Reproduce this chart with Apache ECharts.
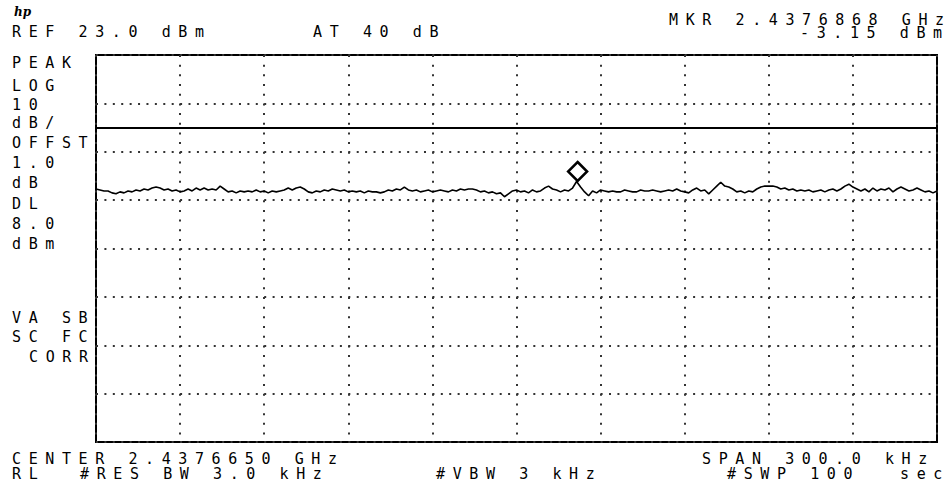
<!DOCTYPE html>
<html>
<head>
<meta charset="utf-8">
<script src="https://cdn.jsdelivr.net/npm/echarts@6/dist/echarts.min.js"></script>
<style>
html,body{margin:0;padding:0;background:#fff;}
#chart{width:952px;height:490px;}
#chart text{letter-spacing:7.6px !important; white-space:pre;}
#chart text[style*="italic"], #chart text[font-style="italic"]{letter-spacing:0px !important;}
</style>
</head>
<body>
<div id="chart"></div>
<script>
// ---- instrument settings ----
const centerGHz = 2.4376650;
const spanKHz = 300;
const refLevel = 23;        // dBm (top of screen)
const dbPerDiv = 10;
const numDivY = 8;
const numDivX = 10;
const displayLine = 8.0;    // dBm
const markerGHz = 2.4376868;
const markerDbm = -3.15;

const trace = [
 -4.7,-4.9,-5.1,-5.1,-5.5,-5.7,-5.3,-5.5,-5.1,-5.3,
 -4.9,-5.1,-4.7,-4.9,-4.5,-4.3,-4.5,-4.9,-4.7,-5.1,
 -4.9,-5.3,-5.1,-4.7,-5.1,-4.5,-4.9,-4.5,-4.9,-4.7,
 -4.9,-4.1,-4.7,-5.3,-5.1,-5.5,-5.1,-5.3,-5.1,-5.3,
 -4.9,-5.3,-5.1,-5.5,-5.1,-5.3,-5.1,-4.9,-4.5,-4.9,
 -4.5,-4.3,-4.7,-5.3,-5.5,-5.1,-5.3,-4.9,-5.1,-4.7,
 -4.9,-5.1,-4.9,-5.3,-5.1,-5.3,-5.1,-5.5,-5.1,-5.3,
 -5.3,-5.5,-5.3,-4.9,-5.1,-4.7,-4.9,-4.3,-4.9,-5.1,
 -4.9,-5.3,-5.1,-4.9,-5.3,-5.1,-4.9,-5.1,-5.3,-4.9,
 -5.1,-4.7,-4.9,-4.7,-4.7,-4.9,-5.3,-5.1,-5.5,-5.3,
 -5.7,-5.5,-6.3,-5.7,-5.1,-4.9,-5.3,-5.1,-5.5,-4.9,
 -5.3,-5.1,-4.5,-4.1,-4.7,-4.9,-5.3,-4.9,-5.1,-4.5,
 -3.15,-4.3,-5.3,-6.1,-5.1,-5.5,-4.9,-5.1,-5.3,-5.1,
 -5.3,-5.3,-4.9,-5.1,-5.3,-5.3,-4.9,-5.1,-5.1,-4.9,
 -5.1,-5.3,-5.1,-4.9,-5.1,-4.7,-5.1,-5.3,-5.5,-4.9,
 -4.5,-5.1,-4.9,-5.7,-4.9,-4.1,-3.3,-4.1,-4.3,-4.7,
 -5.3,-5.1,-5.5,-5.1,-5.3,-4.7,-4.3,-4.1,-4.1,-4.1,
 -4.3,-4.7,-4.5,-4.9,-4.7,-5.1,-4.9,-5.1,-4.9,-5.3,
 -5.1,-4.9,-5.3,-4.9,-4.7,-5.1,-4.7,-4.1,-3.7,-4.3,
 -4.7,-5.1,-4.7,-5.3,-4.5,-5.1,-4.7,-4.9,-4.5,-5.3,
 -4.7,-4.3,-4.7,-5.1,-4.9,-4.5,-4.9,-5.3,-5.1,-5.5,
 -5.1
];

// ---- annotation labels ----
const logoText = 'hp';
const mkrLabel = 'MKR 2.4376868 GHz';
const mkrLevelLabel = '-3.15 dBm';
const refLabel = 'REF 23.0 dBm';
const attLabel = 'AT 40 dB';
const sideLabels = ['PEAK','LOG','10','dB/','OFFST','1.0','dB','DL','8.0','dBm'];
const sideLabels2 = ['VA SB','SC FC','CORR'];
const centerLabel = 'CENTER 2.4376650 GHz';
const spanLabel = 'SPAN 300.0 kHz';
const rlLabel = 'RL';
const rbwLabel = '#RES BW 3.0 kHz';
const vbwLabel = '#VBW 3 kHz';
const swpLabel = '#SWP 100';
const secLabel = 'sec';

// ---- build ----
const half = spanKHz / 2;
const traceData = trace.map((v, i) => [-half + i * spanKHz / (trace.length - 1), v]);
const yMin = refLevel - dbPerDiv * numDivY;

const FONT = '"DejaVu Sans Mono", "Liberation Mono", monospace';
function txt(s, x, capTop) {
  return { type: 'text', left: x, top: capTop - 0.5, silent: true,
    style: { text: s, fill: '#000', font: '15px ' + FONT, lineHeight: 12 } };
}
const sideTops = [56,79,98,116,136,156,176,197,217,237];
const side2 = [[12,311],[12,330],[29,350]];
const graphics = [
  { type: 'text', left: 14, top: 6, silent: true,
    style: { text: logoText, fill: '#000', font: 'italic bold 12px "DejaVu Serif", serif' } },
  txt(mkrLabel, 669, 13),
  txt(mkrLevelLabel, 800, 26),
  txt(refLabel, 12, 25),
  txt(attLabel, 313, 25),
  txt(centerLabel, 12, 452),
  txt(spanLabel, 702, 452),
  txt(rlLabel, 12, 467),
  txt(rbwLabel, 80, 467),
  txt(vbwLabel, 436, 467),
  txt(swpLabel, 727, 467),
  txt(secLabel, 900, 467)
];
sideLabels.forEach((s, i) => graphics.push(txt(s, 12, sideTops[i])));
sideLabels2.forEach((s, i) => graphics.push(txt(s, side2[i][0], side2[i][1])));

const chart = echarts.init(document.getElementById('chart'), null, { renderer: 'svg' });
chart.setOption({
  animation: false,
  backgroundColor: '#fff',
  grid: { left: 96, top: 55, width: 841, height: 387, show: true,
          borderColor: '#000', borderWidth: 2, backgroundColor: 'transparent', containLabel: false },
  xAxis: {
    type: 'value', min: -half, max: half, interval: spanKHz / numDivX,
    axisLine: { show: false }, axisTick: { show: false }, axisLabel: { show: false },
    splitLine: { show: true, lineStyle: { color: '#333', width: 2, type: [2, 7.68], cap: 'butt' } }
  },
  yAxis: {
    type: 'value', min: yMin, max: refLevel, interval: dbPerDiv,
    axisLine: { show: false }, axisTick: { show: false }, axisLabel: { show: false },
    splitLine: { show: true, lineStyle: { color: '#333', width: 2, type: [2, 6.41], cap: 'butt' } }
  },
  series: [{
    type: 'line',
    data: traceData,
    showSymbol: false,
    symbol: 'none',
    lineStyle: { color: '#000', width: 1.6 },
    z: 5,
    markLine: {
      silent: true, symbol: 'none', animation: false,
      label: { show: false },
      lineStyle: { color: '#000', width: 2, type: 'solid' },
      data: [{ yAxis: displayLine }]
    },
    markPoint: {
      silent: true, animation: false,
      symbol: 'diamond', symbolSize: [19, 19], symbolOffset: [0, -10],
      itemStyle: { color: '#fff', borderColor: '#000', borderWidth: 2.5 },
      label: { show: false },
      data: [{ coord: [(markerGHz - centerGHz) * 1e6, markerDbm] }]
    }
  }],
  graphic: graphics
});
</script>
</body>
</html>
